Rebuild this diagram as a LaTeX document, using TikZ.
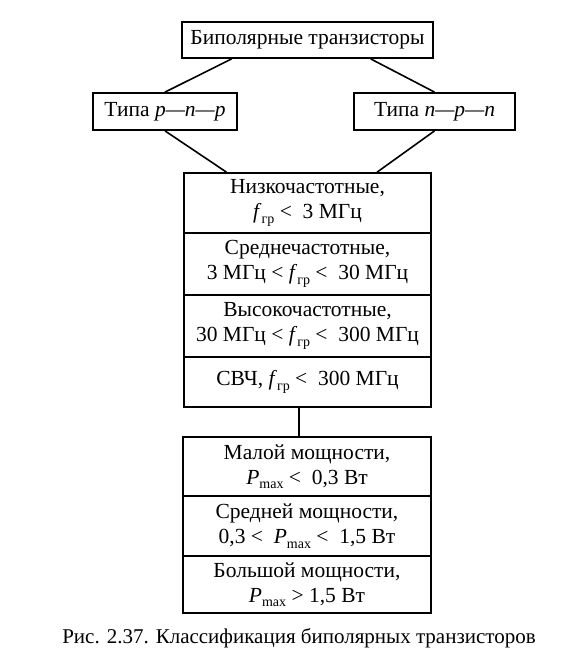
\documentclass[tikz,border=0pt]{standalone}
\usepackage{fontspec}
\setmainfont{Liberation Serif}
\usetikzlibrary{calc}
\newcommand\sbs[1]{\raisebox{-0.45ex}{\fontsize{14}{14}\selectfont #1}}
\begin{document}
\begin{tikzpicture}[x=1pt,y=-1pt,
  box/.style={draw,line width=1.8pt,rectangle,inner sep=0pt,align=center,
    font=\fontsize{21.5}{25}\selectfont},
  link/.style={line width=1.6pt}]
\useasboundingbox (0,0) rectangle (562,663);
\node[box,minimum width=251pt,minimum height=36pt] (top) at (307.5,40) {Биполярные транзисторы};
\node[box,minimum width=144pt,minimum height=37pt] (pnp) at (165,111.5) {Типа \textit{p—n—p}};
\node[box,minimum width=161pt,minimum height=37pt] (npn) at (434.5,111.5) {Типа \textit{n—p—n}};
\node[box,minimum width=247pt,minimum height=60pt] (f1) at (307.5,203) {Низкочастотные,\\\textit{f}\sbs{гр} <\ \ 3 МГц};
\node[box,minimum width=247pt,minimum height=62pt] (f2) at (307.5,264) {Среднечастотные,\\3 МГц < \textit{f}\sbs{гр} <\ \ 30 МГц};
\node[box,minimum width=247pt,minimum height=62pt] (f3) at (307.5,326) {Высокочастотные,\\30 МГц < \textit{f}\sbs{гр} <\ \ 300 МГц};
\node[box,minimum width=247pt,minimum height=50pt] (f4) at (307.5,382) {СВЧ, \textit{f}\sbs{гр} <\ \ 300 МГц};
\node[box,minimum width=248pt,minimum height=59pt] (p1) at (307,466.5) {Малой мощности,\\\textit{P}\sbs{max} <\ \ 0,3 Вт};
\node[box,minimum width=248pt,minimum height=60pt] (p2) at (307,526) {Средней мощности,\\0,3 <\ \ \textit{P}\sbs{max} <\ \ 1,5 Вт};
\node[box,minimum width=248pt,minimum height=57pt] (p3) at (307,584.5) {Большой мощности,\\\textit{P}\sbs{max} > 1,5 Вт};
\node[font=\fontsize{21}{25}\selectfont] (cap) at (299,638) {Рис. 2.37. Классификация биполярных транзисторов};
\draw[link] ($(top.south west)!0.2!(top.south east)$) -- (pnp.north);
\draw[link] ($(top.south west)!0.75!(top.south east)$) -- (npn.north);
\draw[link] (pnp.south) -- ($(f1.north west)!0.174!(f1.north east)$);
\draw[link] (npn.south) -- ($(f1.north west)!0.78!(f1.north east)$);
\coordinate (v) at ($(f4.south west)!0.465!(f4.south east)$);
\draw[link] (v) -- (v |- p1.north);
\end{tikzpicture}
\end{document}
